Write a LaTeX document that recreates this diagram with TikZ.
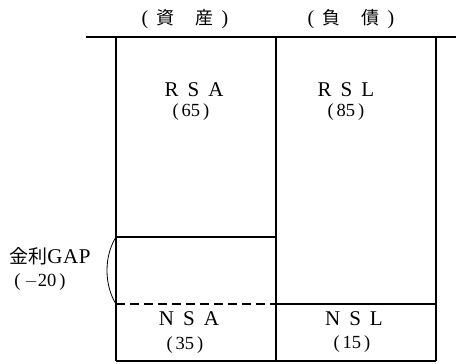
\documentclass[tikz,border=0pt]{standalone}
\usepackage{fontspec}
\newfontfamily\jp{Noto Sans CJK JP}
\newfontfamily\lat{Liberation Serif}
\newcommand{\lsp}{\hspace{9pt}}
\newcommand{\cell}[1]{\makebox[20pt]{#1}}
\newcommand{\pnum}[1]{(\hspace{3pt}#1\hspace{3pt})}
\tikzset{
  txt/.style={font=\lat\fontsize{21}{21}\selectfont, inner sep=0pt},
  num/.style={font=\lat\fontsize{18.5}{18.5}\selectfont, inner sep=0pt},
  hdr/.style={font=\jp\fontsize{18}{18}\selectfont, inner sep=0pt},
  rule/.style={line width=1.2pt},
  gapline/.style={line width=1.2pt, dash pattern=on 9pt off 5pt},
  bracecurve/.style={line width=0.8pt}
}
\begin{document}
\begin{tikzpicture}[x=1pt,y=-1pt]
\useasboundingbox (0,0) rectangle (456,364);
% frame coordinates
\coordinate (tl) at (86,37);
\coordinate (tr) at (456,37);
\coordinate (a1) at (116,37);
\coordinate (a2) at (276,37);
\coordinate (a3) at (436,37);
\coordinate (b1) at (116,361);
\coordinate (b2) at (276,361);
\coordinate (b3) at (436,361);
\coordinate (g1) at (116,237);
\coordinate (g2) at (276,237);
\coordinate (d1) at (116,304);
\coordinate (d2) at (276,304);
\coordinate (d3) at (436,304);
% lines
\draw[rule] (tl) -- (tr);
\draw[rule] (a1) -- (b1);
\draw[rule] (a2) -- (b2);
\draw[rule] (a3) -- (b3);
\draw[rule] (b1) -- (b3);
\draw[rule] (g1) -- (g2);
\draw[gapline] (d1) -- (d2);
\draw[rule] (d2) -- (d3);
\draw[bracecurve] (g1) .. controls (104,256) and (104,285) .. (d1);
% headers
\node[hdr] (h1) at (185,19) {\cell{\lat\fontsize{20}{20}\selectfont(}\cell{資}\cell{}\cell{産}\cell{\lat\fontsize{20}{20}\selectfont)}};
\node[hdr] (h2) at (351,19) {\cell{\lat\fontsize{20}{20}\selectfont(}\cell{負}\cell{}\cell{債}\cell{\lat\fontsize{20}{20}\selectfont)}};
% texts
\node[txt] (rsa) at (194,90) {R\lsp S\lsp A};
\node[num] (rsav) at (191,112) {\pnum{65}};
\node[txt] (rsl) at (346,90) {R\lsp S\lsp L};
\node[num] (rslv) at (346,112) {\pnum{85}};
\node[txt] (nsa) at (189,319) {N\lsp S\lsp A};
\node[num] (nsav) at (185,345) {\pnum{35}};
\node[txt] (nsl) at (354,319) {N\lsp S\lsp L};
\node[num] (nslv) at (352,344) {\pnum{15}};
\node[txt] (gap) at (50,256) {{\jp\fontsize{19}{19}\selectfont 金利}G\hspace{0.5pt}A\hspace{0.5pt}P};
\node[num] (gapv) at (40,282) {(\hspace{4pt}$-$20\hspace{3pt})};
\end{tikzpicture}
\end{document}
